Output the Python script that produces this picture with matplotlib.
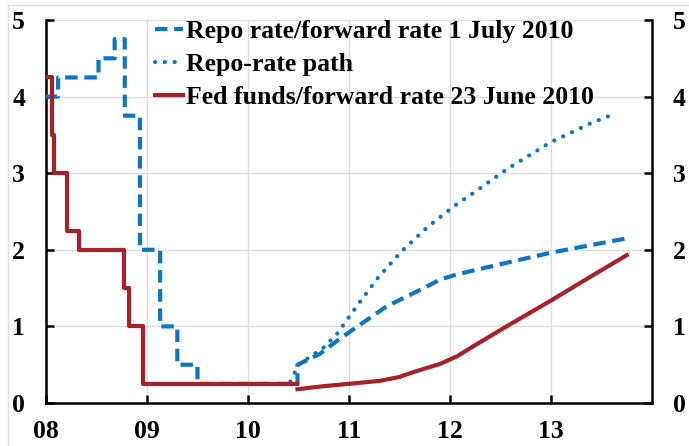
import numpy as np
import matplotlib
matplotlib.use('Agg')
import matplotlib.pyplot as plt
from matplotlib.lines import Line2D

plt.rcParams['font.family'] = ['Liberation Serif', 'DejaVu Serif']
plt.rcParams['font.weight'] = 'bold'

# Riksbank repo rate (steps) and forward rate 1 July 2010
repo_step_x = [2008.0, 2008.12, 2008.52, 2008.68, 2008.78, 2008.93, 2009.13, 2009.30, 2009.50, 2010.49]
repo_step_y = [4.0, 4.25, 4.5, 4.75, 3.75, 2.0, 1.0, 0.5, 0.25, 0.25]
repo_fwd_x = [2010.49, 2010.71, 2010.91, 2011.14, 2011.37, 2011.57, 2011.74, 2011.90,
              2012.07, 2012.56, 2012.99, 2013.75]
repo_fwd_y = [0.5, 0.64, 0.84, 1.05, 1.26, 1.39, 1.50, 1.61, 1.68, 1.83, 1.96, 2.15]

# Repo-rate path
path_x = [2010.42, 2010.50, 2010.745, 2010.88, 2011.08, 2011.29, 2011.52, 2011.78,
          2012.06, 2012.23, 2012.56, 2012.99, 2013.39, 2013.58]
path_y = [0.28, 0.5, 0.72, 0.90, 1.27, 1.64, 1.98, 2.30,
          2.59, 2.74, 3.05, 3.40, 3.65, 3.75]

# Fed funds (steps) and forward rate 23 June 2010
fed_step_x = [2008.0, 2008.06, 2008.08, 2008.21, 2008.33, 2008.77, 2008.82, 2008.96, 2010.49]
fed_step_y = [4.25, 3.5, 3.0, 2.25, 2.0, 1.5, 1.0, 0.25, 0.25]
fed_fwd_x = [2010.49, 2010.75, 2011.0, 2011.31, 2011.5, 2011.63, 2011.9, 2012.07, 2012.23,
             2012.56, 2012.99, 2013.38, 2013.75]
fed_fwd_y = [0.18, 0.22, 0.25, 0.29, 0.34, 0.40, 0.51, 0.61, 0.74, 1.0, 1.33, 1.64, 1.93]

years = [2008, 2009, 2010, 2011, 2012, 2013]
year_labels = ['08', '09', '10', '11', '12', '13']

labels = ['Repo rate/forward rate 1 July 2010', 'Repo-rate path',
          'Fed funds/forward rate 23 June 2010']

blue = '#0a76c4'
red = '#a8202a'


def stairs(x, y):
    # expand step data into a staircase (steps-post)
    xs = np.repeat(x, 2)[1:]
    ys = np.repeat(y, 2)[:-1]
    return xs, ys


fig = plt.figure(figsize=(6.89, 4.46), dpi=100)
ax = fig.add_axes([46 / 689, 1 - 403 / 446, 606 / 689, 383 / 446])

sx, sy = stairs(repo_step_x, repo_step_y)
ax.plot(np.concatenate([sx, repo_fwd_x]), np.concatenate([sy, repo_fwd_y]),
        color=blue, lw=3, dashes=(3, 1.6), zorder=3)
ax.plot(path_x, path_y, color=blue, lw=3, linestyle=(0, (0.05, 2.3)),
        dash_capstyle='round', zorder=3)
fx, fy = stairs(fed_step_x, fed_step_y)
ax.plot(fx, fy, color=red, lw=3, zorder=4)
ax.plot(fed_fwd_x, fed_fwd_y, color=red, lw=3, zorder=4)

ax.set_xlim(2008, 2014)
ax.set_ylim(0, 5)
ax.set_xticks(years)
ax.set_xticklabels(year_labels)
ax.set_yticks(range(6))
ax.grid(True, color='#dddddd', lw=1)
ax.set_axisbelow(True)

ax.spines['top'].set_visible(False)
for s in ['left', 'right', 'bottom']:
    ax.spines[s].set_linewidth(1.8)
ax.tick_params(axis='both', direction='in', length=6, width=1.8, labelsize=18.5)
ax.tick_params(axis='y', right=True, labelright=True, pad=15)
ax.tick_params(axis='x', pad=12)
for t in ax.get_xticklabels() + ax.get_yticklabels():
    t.set_fontweight('bold')

handles = [Line2D([], [], color=blue, lw=3, dashes=(3, 1.6)),
           Line2D([], [], color=blue, lw=3, linestyle=(0, (0.05, 2.3)), dash_capstyle='round'),
           Line2D([], [], color=red, lw=3)]
ax.legend(handles, labels, loc='upper left', bbox_to_anchor=(0.18, 1.0),
          frameon=False, prop={'size': 18.5, 'weight': 'bold'},
          handlelength=1.1, handletextpad=0.12, labelspacing=0.38,
          borderpad=0, borderaxespad=0)

# faint frame around the picture
fig.add_artist(Line2D([8 / 689, 1], [1 - 5 / 446, 1 - 5 / 446], color='#e0e0e0', lw=1))
fig.add_artist(Line2D([8 / 689, 8 / 689], [0, 1 - 5 / 446], color='#e0e0e0', lw=1))

fig.savefig('out.png', dpi=100)
